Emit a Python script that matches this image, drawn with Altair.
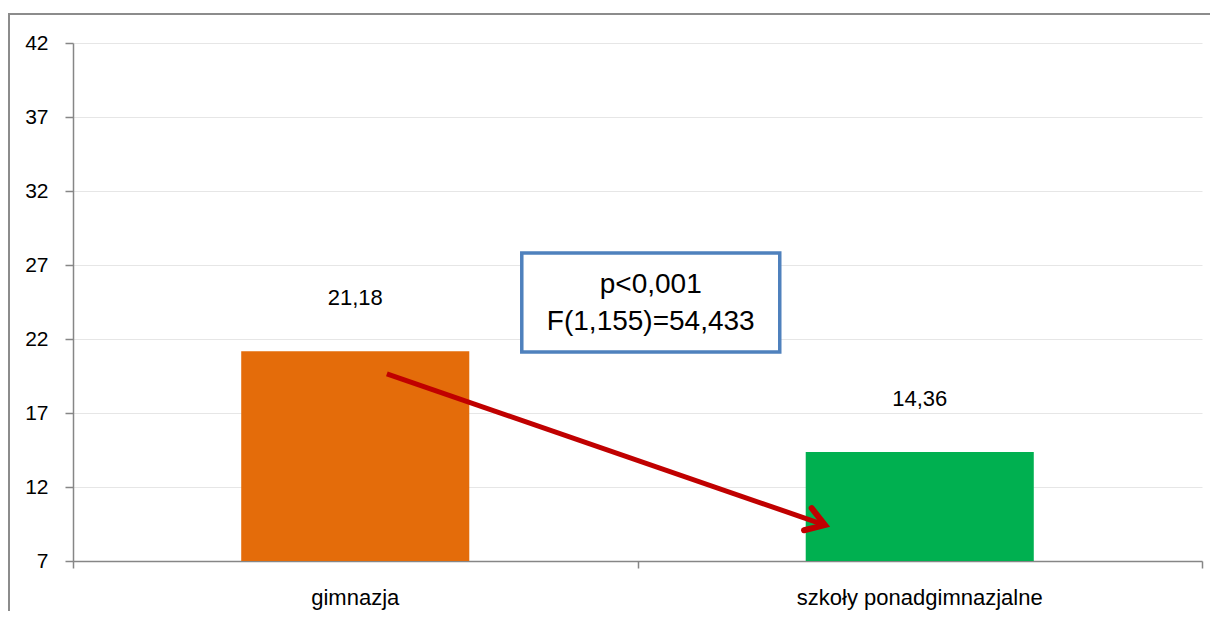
import altair as alt
import pandas as pd

# ---- data ----
categories = ["gimnazja", "szkoły ponadgimnazjalne"]
values = [21.18, 14.36]
value_labels = ["21,18", "14,36"]
bar_colors = ["#E46C0A", "#00B050"]
y_ticks = [7, 12, 17, 22, 27, 32, 37, 42]
x_boundaries = [0, 1, 2]

# annotation (in data units: x on a 0..2 category-span scale, y in values)
arrow_x = [0.556, 1.332]
arrow_y = [19.64, 9.43]
box_x = [0.795, 1.252]
box_y = [21.12, 27.81]
box_lines = ["p<0,001", "F(1,155)=54,433"]

FONT = "Liberation Sans Narrow, Arial Narrow, Liberation Sans, sans-serif"
W, H = 1129, 518
AXIS_GRAY = "#868686"

df = pd.DataFrame({"cat": categories, "val": values, "lab": value_labels, "col": bar_colors})
arrow_df = pd.DataFrame({"x": arrow_x, "y": arrow_y})
head_df = pd.DataFrame({"x": [arrow_x[-1]], "y": [arrow_y[-1]]})
box_df = pd.DataFrame({"x": [box_x[0]], "x2": [box_x[1]], "y": [box_y[0]], "y2": [box_y[1]],
                       "xm": [sum(box_x) / 2], "ym": [sum(box_y) / 2],
                       "t": ["\n".join(box_lines)]})

yscale = alt.Scale(domain=[7, 42], nice=False, zero=False)
yaxis = alt.Axis(values=y_ticks, title=None, labelFont=FONT, labelFontSize=21, labelColor="black",
                 domainColor=AXIS_GRAY, domainWidth=1.5, tickColor=AXIS_GRAY, tickWidth=1.5,
                 tickSize=8, labelPadding=17, grid=True, gridColor="#E6E6E6", gridWidth=1)
xband = alt.Scale(paddingInner=0.596, paddingOuter=0.298)
xq = alt.Scale(domain=[0, 2], nice=False, zero=False)

frame = alt.Chart(df).mark_rect(fillOpacity=0, stroke="#8C8C8C", strokeWidth=2).encode(
    x=alt.value(-64), x2=alt.value(W + 40), y=alt.value(-29), y2=alt.value(H + 80)
)

bars = alt.Chart(df).mark_bar().encode(
    x=alt.X("cat:N", sort=categories, scale=xband,
            axis=alt.Axis(title=None, labelAngle=0, labelFont=FONT, labelLimit=0,
                          labelFontSize=22, labelColor="black", domainColor=AXIS_GRAY,
                          domainWidth=1.5, ticks=True, tickOpacity=0, tickSize=7,
                          labelPadding=19, grid=False)),
    y=alt.Y("val:Q", scale=yscale, axis=yaxis),
    y2=alt.datum(7),
    color=alt.Color("col:N", scale=None, legend=None),
)

labels = alt.Chart(df).mark_text(font=FONT, fontSize=22, color="black", baseline="alphabetic", dy=-46).encode(
    x=alt.X("cat:N", sort=categories, scale=xband, axis=None),
    y=alt.Y("val:Q", scale=yscale, axis=yaxis),
    text="lab:N",
)

# boundary ticks on the x axis (between categories)
tick_df = pd.DataFrame({"x": x_boundaries})
xticks = alt.Chart(tick_df).mark_point(opacity=0).encode(
    x=alt.X("x:Q", scale=xq,
            axis=alt.Axis(values=x_boundaries, labels=False, domain=False, ticks=True,
                          tickSize=7, tickColor=AXIS_GRAY, tickWidth=1.5, grid=False,
                          title=None, orient="bottom")),
    y=alt.value(H),
)

arrow = alt.Chart(arrow_df).mark_line(color="#C00000", strokeWidth=5).encode(
    x=alt.X("x:Q", scale=xq, axis=None),
    y=alt.Y("y:Q", scale=yscale, axis=yaxis),
)
head = alt.Chart(head_df).mark_point(shape="M-1,-0.65L0,0L-1,0.65", size=1300, angle=19,
                                     filled=False, stroke="#C00000", strokeWidth=6,
                                     opacity=1, strokeCap="round", strokeJoin="miter").encode(
    x=alt.X("x:Q", scale=xq, axis=None),
    y=alt.Y("y:Q", scale=yscale, axis=yaxis),
)

box = alt.Chart(box_df).mark_rect(fill="white", stroke="#4F81BD", strokeWidth=3.5).encode(
    x=alt.X("x:Q", scale=xq, axis=None), x2="x2:Q",
    y=alt.Y("y:Q", scale=yscale, axis=yaxis), y2="y2:Q",
)
box_text = alt.Chart(box_df).mark_text(font=FONT, fontSize=28, lineHeight=37, lineBreak="\n",
                                       align="center", baseline="middle", dy=-18,
                                       color="black").encode(
    x=alt.X("xm:Q", scale=xq, axis=None),
    y=alt.Y("ym:Q", scale=yscale, axis=yaxis),
    text="t:N",
)

chart = alt.layer(frame, bars, labels, xticks, arrow, head, box, box_text).resolve_scale(
    x="independent"
).properties(
    width=W, height=H,
    autosize=alt.AutoSizeParams(type="none"),
    padding={"left": 65, "top": 35, "right": 8, "bottom": 50},
    background="white",
).configure_view(stroke=None)

chart.save("out.html", embed_options={"renderer": "svg", "actions": False})
